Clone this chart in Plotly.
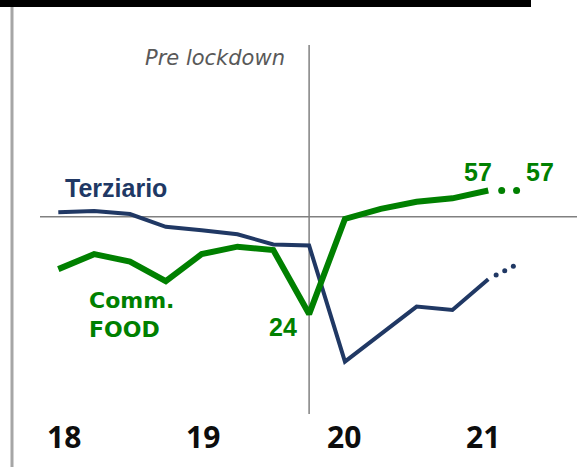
import plotly.graph_objects as go

# ---- data ----
quarters = list(range(13))          # 2018 Q1 ... 2021 Q1
terziario = [51.2, 51.5, 50.7, 47.3, 46.4, 45.3, 42.6, 42.3, 11.3, 18.6, 26.0, 25.1, 33.3]
comm_food = [36.0, 40.0, 38.0, 32.8, 40.0, 42.0, 41.1, 24.0, 49.4, 52.1, 54.0, 54.9, 57.0]
terz_fc_x = [12.22, 12.46, 12.70]
terz_fc = [34.4, 35.6, 36.8]
food_fc_x = [12.375, 12.79]
food_fc = [57.0, 57.0]
year_ticks = [0, 4, 8, 12]
year_labels = ["18", "19", "20", "21"]
lockdown_q = 7
ref_level = 50

NAVY = "#203864"
GREEN = "#008000"
W, H = 587, 467
tick_label_shift = [6, 1, -1, -5]

fig = go.Figure()
fig.add_trace(go.Scatter(x=quarters, y=terziario, mode="lines",
                         line=dict(color=NAVY, width=4), hoverinfo="skip"))
fig.add_trace(go.Scatter(x=quarters, y=comm_food, mode="lines",
                         line=dict(color=GREEN, width=6), hoverinfo="skip"))
fig.add_trace(go.Scatter(x=terz_fc_x, y=terz_fc, mode="markers",
                         marker=dict(color=NAVY, size=5), hoverinfo="skip"))
fig.add_trace(go.Scatter(x=food_fc_x, y=food_fc, mode="markers",
                         marker=dict(color=GREEN, size=7), hoverinfo="skip"))

shapes = [
    # reference level line
    dict(type="line", xref="paper", yref="y", x0=40 / W, x1=577 / W, y0=ref_level, y1=ref_level,
         line=dict(color="#808080", width=1.5), layer="below"),
    # lockdown vertical line
    dict(type="line", xref="x", yref="paper", x0=lockdown_q, x1=lockdown_q,
         y0=1 - 414 / H, y1=1 - 45 / H, line=dict(color="#808080", width=1.5), layer="below"),
    # black top bar
    dict(type="rect", xref="paper", yref="paper", x0=0, x1=531 / W, y0=1 - 7 / H, y1=1,
         fillcolor="black", line=dict(width=0)),
    # left gray border
    dict(type="line", xref="paper", yref="paper", x0=12 / W, x1=12 / W, y0=0, y1=1 - 7 / H,
         line=dict(color="#a6a6a6", width=3)),
]

ann = []
ann.append(dict(text="<i>Pre lockdown</i>", xref="x", yref="paper", x=lockdown_q, y=1 - 57.5 / H,
                xanchor="right", yanchor="middle", xshift=-22, showarrow=False,
                font=dict(family="DejaVu Sans", size=21, color="#595959")))
ann.append(dict(text="<b>Terziario</b>", xref="paper", yref="paper", x=63 / W, y=1 - 188 / H,
                xanchor="left", yanchor="middle", showarrow=False,
                font=dict(family="Liberation Sans", size=25, color=NAVY)))
ann.append(dict(text="<b>Comm.</b><br><b>FOOD</b>", xref="paper", yref="paper", x=87 / W, y=1 - 315 / H,
                xanchor="left", yanchor="middle", align="left", showarrow=False,
                font=dict(family="DejaVu Sans", size=22, color=GREEN)))
ann.append(dict(text="<b>%d</b>" % round(comm_food[lockdown_q]), xref="x", yref="y",
                x=lockdown_q, y=comm_food[lockdown_q], xanchor="right", yanchor="middle",
                xshift=-10, yshift=-13, showarrow=False,
                font=dict(family="Liberation Sans", size=25, color=GREEN)))
ann.append(dict(text="<b>%d</b>" % round(comm_food[-1]), xref="x", yref="y",
                x=quarters[-1], y=comm_food[-1], xanchor="center", yanchor="middle",
                xshift=-10, yshift=18, showarrow=False,
                font=dict(family="Liberation Sans", size=25, color=GREEN)))
ann.append(dict(text="<b>%d</b>" % round(food_fc[-1]), xref="x", yref="y",
                x=food_fc_x[-1], y=food_fc[-1], xanchor="center", yanchor="middle",
                xshift=23, yshift=18, showarrow=False,
                font=dict(family="Liberation Sans", size=25, color=GREEN)))
for tv, tl, sh in zip(year_ticks, year_labels, tick_label_shift):
    ann.append(dict(text="<b>%s</b>" % tl, xref="x", yref="paper", x=tv, y=1 - 436 / H,
                    xanchor="center", yanchor="middle", xshift=sh, showarrow=False,
                    font=dict(family="Open Sans", size=30, color="#0d0d0d")))

# axis ranges chosen so that the plot occupies the whole canvas
px_per_q = 35.83
x0 = -58.3 / px_per_q
x1 = x0 + W / px_per_q
px_per_u = 3.745
y1 = ref_level + 216.7 / px_per_u
y0 = y1 - H / px_per_u

fig.update_layout(
    width=W, height=H, margin=dict(l=0, r=0, t=0, b=0),
    paper_bgcolor="white", plot_bgcolor="white", showlegend=False,
    xaxis=dict(range=[x0, x1], visible=False, fixedrange=True),
    yaxis=dict(range=[y0, y1], visible=False, fixedrange=True),
    shapes=shapes, annotations=ann,
)
fig.write_html("out.html", config={"displayModeBar": False},
               post_script="document.body.style.margin='0';document.body.style.overflow='hidden';")
